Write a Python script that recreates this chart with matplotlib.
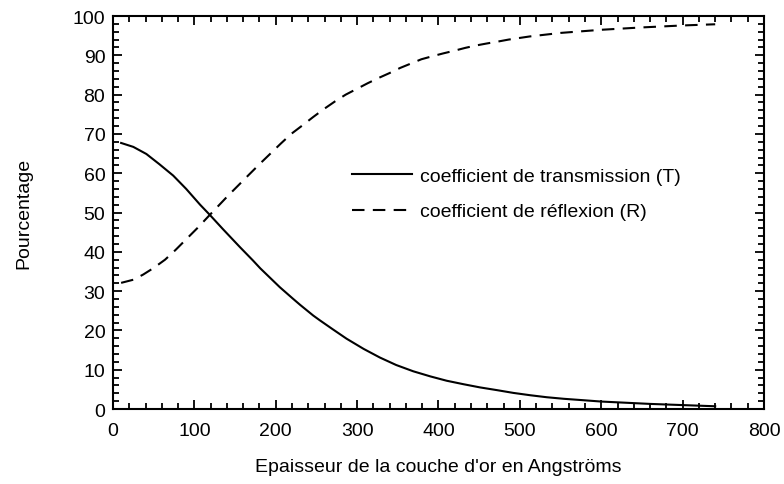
import numpy as np
import matplotlib
matplotlib.use("Agg")
import matplotlib.pyplot as plt
from matplotlib.ticker import MultipleLocator

plt.rcParams["font.family"] = ["Liberation Sans", "DejaVu Sans"]

# ── Données : épaisseur (Å) vs coefficients T et R (%) ───────────────────────
epaisseur_T = [10, 25, 41, 57, 74, 90, 107, 119, 135, 156, 172, 181, 197, 205,
               221, 230, 246, 254, 270, 287, 308, 328, 348, 369, 390, 410, 431,
               451, 472, 492, 513, 533, 554, 574, 600, 620, 660, 700, 740]
transmission = [67.7, 66.7, 64.9, 62.3, 59.4, 56.0, 52.0, 49.4, 45.8, 41.2,
                37.8, 35.8, 32.6, 31.0, 28.1, 26.5, 23.8, 22.6, 20.3, 17.9,
                15.3, 13.1, 11.2, 9.6, 8.3, 7.2, 6.3, 5.5, 4.8, 4.1, 3.5, 3.0,
                2.6, 2.3, 1.9, 1.7, 1.3, 1.0, 0.7]

epaisseur_R = [10, 25, 37, 50, 64, 77, 90, 104, 119, 130, 141, 154, 166, 180,
               193, 206, 219, 233, 246, 259, 273, 286, 300, 313, 326, 340, 353,
               366, 379, 393, 406, 420, 433, 446, 459, 473, 486, 499, 512, 550,
               600, 650, 700, 740]
reflexion = [32.1, 32.9, 34.2, 35.9, 38.0, 40.5, 43.2, 46.1, 49.4, 51.8, 54.2,
             56.9, 59.4, 62.3, 64.9, 67.5, 70.0, 72.2, 74.3, 76.3, 78.3, 80.0,
             81.5, 82.9, 84.2, 85.5, 86.8, 87.9, 89.0, 89.8, 90.5, 91.2, 91.9,
             92.5, 93.0, 93.5, 94.0, 94.4, 94.8, 95.7, 96.5, 97.1, 97.6, 97.9]

fig = plt.figure(figsize=(7.84, 4.85), dpi=100)
ax = fig.add_axes([0.1441, 0.1546, 0.8304, 0.8103])

ax.plot(epaisseur_T, transmission, color="black", lw=1.5,
        label="coefficient de transmission (T)")
ax.plot(epaisseur_R, reflexion, color="black", lw=1.5, dashes=(6, 4),
        label="coefficient de réflexion (R)")

ax.set_xlim(0, 800)
ax.set_ylim(0, 100)
ax.xaxis.set_major_locator(MultipleLocator(100))
ax.xaxis.set_minor_locator(MultipleLocator(20))
ax.yaxis.set_major_locator(MultipleLocator(10))
ax.yaxis.set_minor_locator(MultipleLocator(2))
ax.tick_params(which="both", direction="in", top=True, right=True,
               width=1.3, labelsize=14, color="black")
ax.tick_params(which="major", length=6.5)
ax.tick_params(which="minor", length=4)
ax.tick_params(axis="x", pad=9)
ax.tick_params(axis="y", pad=5.5)
for s in ax.spines.values():
    s.set_linewidth(1.5)

ax.set_xlabel("Epaisseur de la couche d'or en Angströms", fontsize=14, labelpad=14)
ax.set_ylabel("Pourcentage", fontsize=14, labelpad=29)

ax.legend(loc="upper left", bbox_to_anchor=(0.367, 0.615), frameon=False,
          fontsize=14, borderpad=0, borderaxespad=0, handlelength=3.1,
          handletextpad=0.41, labelspacing=0.92)

fig.savefig("out.png", dpi=100)
